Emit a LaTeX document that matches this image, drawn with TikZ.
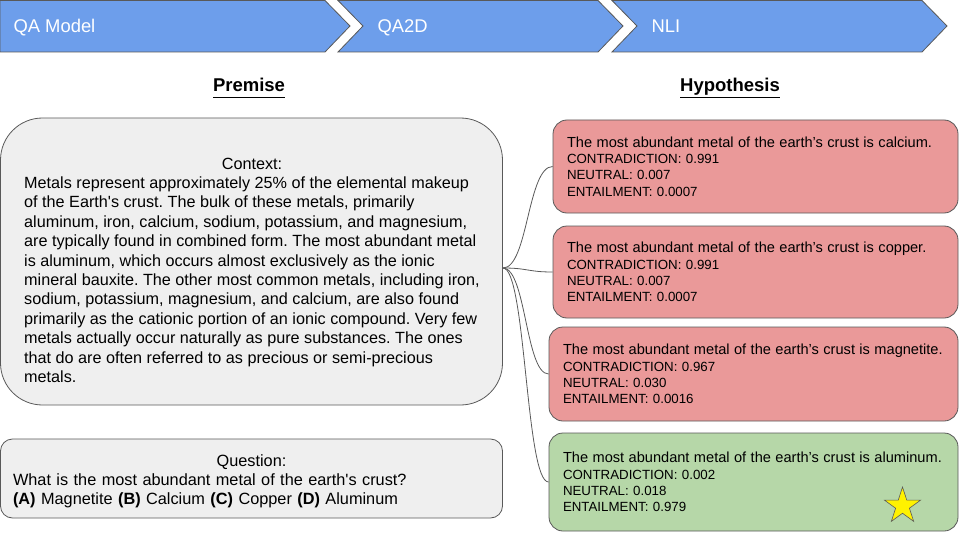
\documentclass[tikz,border=0pt]{standalone}
\usepackage{fontspec}
\setmainfont{Liberation Sans}
\usepackage{tikz}
\usetikzlibrary{shapes.geometric}

\definecolor{chevblue}{HTML}{6D9EEB}
\definecolor{contrared}{HTML}{EA9999}
\definecolor{entailgreen}{HTML}{B6D7A8}
\definecolor{boxgray}{HTML}{EFEFEF}
\definecolor{edgegray}{HTML}{595959}

\begin{document}
\frenchspacing
\begin{tikzpicture}[x=1pt,y=-1pt,
                    chev/.style={fill=chevblue,draw=edgegray,line width=0.8pt},
                    chevtext/.style={anchor=base west,text=white,
                                     font=\fontsize{18.4}{22}\selectfont},
                    heading/.style={anchor=base,font=\fontsize{18.5}{22}\selectfont\bfseries},
                    greybox/.style={draw=edgegray,fill=boxgray,line width=0.8pt},
                    hyp/.style={draw=edgegray,line width=0.8pt,rounded corners=14pt,
                                align=left,inner xsep=14pt,inner ysep=0pt,
                                font=\fontsize{13.3}{16.4}\selectfont},
                    link/.style={draw=edgegray,line width=0.8pt}]

\useasboundingbox (0,0) rectangle (960,540);

\draw[chev] (0,0.5) -- (325,0.5) -- (350,26) -- (325,52) -- (0,52) -- cycle;
\draw[chev] (338,0.5) -- (598,0.5) -- (623,26) -- (598,52) -- (338,52) -- (363,26) -- cycle;
\draw[chev] (612,0.5) -- (922,0.5) -- (947,26) -- (922,52) -- (612,52) -- (637,26) -- cycle;

\node[chevtext] (QAM) at (10,33) {QA Model};
\node[chevtext] (QA2D) at (374,33) {QA2D};
\node[chevtext] (NLI) at (648,33) {NLI};

\node[heading] (PREM) at (249,92) {\underline{Premise\vphantom{y}}};
\node[heading] (HYP) at (730,92) {\underline{Hypothesis}};

\node[greybox,rounded corners=42pt,minimum width=502pt,minimum height=287pt]
     (CTX) at (251.5,261.5) {};
\node[font=\fontsize{16.2}{19.4}\selectfont] (CTXT) at (252,272)
     {\begin{tabular}{@{}l@{}}\multicolumn{1}{c}{Context:}\\
      Metals represent approximately 25\% of the elemental makeup\\
      of the Earth\textquotesingle s crust. The bulk of these metals, primarily\\
      aluminum, iron, calcium, sodium, potassium, and magnesium,\\
      are typically found in combined form. The most abundant metal\\
      is aluminum, which occurs almost exclusively as the ionic\\
      mineral bauxite. The other most common metals, including iron,\\
      sodium, potassium, magnesium, and calcium, are also found\\
      primarily as the cationic portion of an ionic compound. Very few\\
      metals actually occur naturally as pure substances. The ones\\
      that do are often referred to as precious or semi-precious\\
      metals.\end{tabular}};

\node[greybox,rounded corners=12pt,minimum width=502pt,minimum height=79pt]
     (QB) at (251.5,478.5) {};
\node[text width=477pt,align=left,inner sep=0pt,font=\fontsize{16.3}{19}\selectfont]
     (QT) at (251.5,481)
     {{\centering Question:\par}What is the most abundant metal of the earth\textquotesingle s crust?\\
      \textbf{(A)} Magnetite \textbf{(B)} Calcium \textbf{(C)} Copper \textbf{(D)} Aluminum};

\node[hyp,fill=contrared,text width=377pt,minimum height=93pt] (H1) at (755.5,166.5)
     {{\fontsize{14.6}{16.4}\selectfont The most abundant metal of the earth’s crust is calcium.}\\
      CONTRADICTION: 0.991\\NEUTRAL: 0.007\\ENTAILMENT: 0.0007};
\node[hyp,fill=contrared,text width=377pt,minimum height=92pt] (H2) at (755.5,272)
     {{\fontsize{14.6}{16.4}\selectfont The most abundant metal of the earth’s crust is copper.}\\
      CONTRADICTION: 0.991\\NEUTRAL: 0.007\\ENTAILMENT: 0.0007};
\node[hyp,fill=contrared,text width=381pt,minimum height=94pt] (H3) at (753.5,374)
     {{\fontsize{14.6}{16.4}\selectfont The most abundant metal of the earth’s crust is magnetite.}\\
      CONTRADICTION: 0.967\\NEUTRAL: 0.030\\ENTAILMENT: 0.0016};
\node[hyp,fill=entailgreen,text width=381pt,minimum height=98pt] (H4) at (753.5,482)
     {{\fontsize{14.6}{16.4}\selectfont The most abundant metal of the earth’s crust is aluminum.}\\
      CONTRADICTION: 0.002\\NEUTRAL: 0.018\\ENTAILMENT: 0.979};

\node[star,star points=5,star point ratio=2.618,minimum size=38pt,inner sep=0pt,
      fill=yellow,draw=edgegray,line width=0.6pt] (STAR) at (902.5,506) {};

\coordinate (FAN) at (503,268);
\path[link] (FAN) edge[controls={+(25,0) and +(-25,0)}] (H1.west)
            (FAN) edge[controls={+(25,0) and +(-25,0)}] (H2.west)
            (FAN) edge[controls={+(23,0) and +(-23,0)}] (H3.west)
            (FAN) edge[controls={+(23,0) and +(-23,0)}] (H4.west);

\end{tikzpicture}
\end{document}
